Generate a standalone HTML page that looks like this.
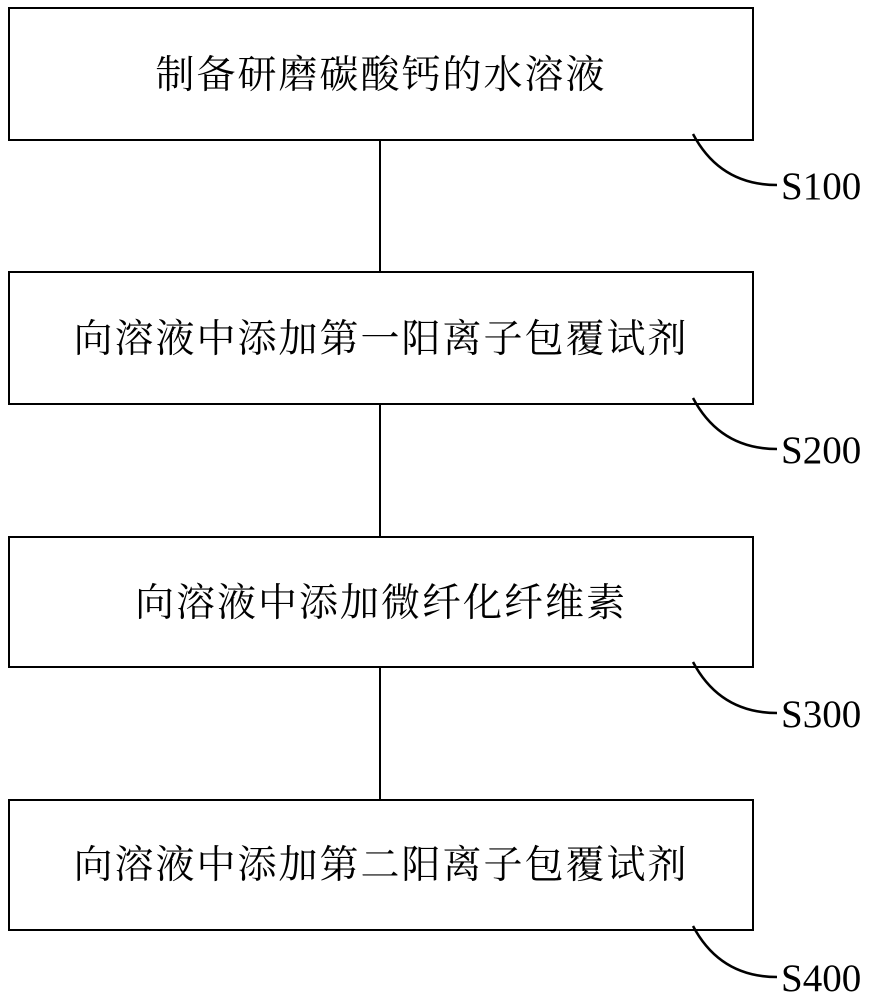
<!DOCTYPE html>
<html><head><meta charset="utf-8"><style>
body{margin:0;background:#fff;width:874px;height:1000px;overflow:hidden}
svg{display:block}
text{fill:#000}
.c{font-family:"Liberation Serif","Noto Serif CJK SC",serif;font-size:39px;letter-spacing:2px}
.s{font-family:"Liberation Serif",serif;font-size:39px}
</style></head><body>
<svg width="874" height="1000" viewBox="0 0 874 1000">
<g fill="none" stroke="#000" stroke-width="2">
<rect x="9" y="8" width="744" height="132"/>
<rect x="9" y="272" width="744" height="132"/>
<rect x="9" y="537" width="744" height="130"/>
<rect x="9" y="800" width="744" height="130"/>
<line x1="380" y1="140" x2="380" y2="272"/>
<line x1="380" y1="404" x2="380" y2="537"/>
<line x1="380" y1="667" x2="380" y2="800"/>
<g stroke-width="2.5">
<path d="M693,134 Q720,185 777,185"/>
<path d="M693,398 Q720,449 777,449"/>
<path d="M693,662 Q720,713 777,713"/>
<path d="M693,926 Q720,977 777,977"/>
</g>
</g>
<g class="c" text-anchor="middle">
<text x="381" y="88">制备研磨碳酸钙的水溶液</text>
<text x="381" y="352">向溶液中添加第一阳离子包覆试剂</text>
<text x="381" y="616">向溶液中添加微纤化纤维素</text>
<text x="381" y="878">向溶液中添加第二阳离子包覆试剂</text>
</g>
<g class="s">
<text x="781" y="199">S100</text>
<text x="781" y="463">S200</text>
<text x="781" y="727">S300</text>
<text x="781" y="991">S400</text>
</g>
</svg>
</body></html>
